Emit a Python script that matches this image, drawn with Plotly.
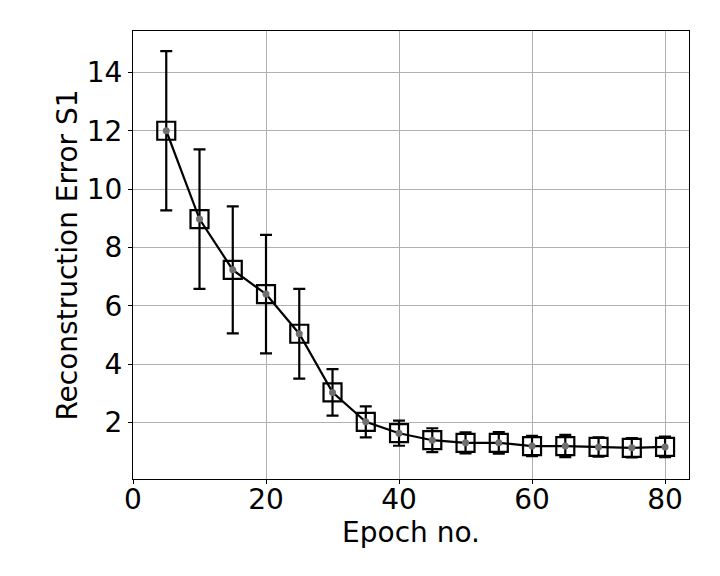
import plotly.graph_objects as go

epochs = [5, 10, 15, 20, 25, 30, 35, 40, 45, 50, 55, 60, 65, 70, 75, 80]
recon_error = [12.0, 8.97, 7.23, 6.4, 5.04, 3.03, 2.02, 1.63, 1.39, 1.3, 1.3,
               1.19, 1.19, 1.16, 1.13, 1.16]
recon_std = [2.73, 2.39, 2.18, 2.03, 1.54, 0.8, 0.53, 0.43, 0.41, 0.36, 0.37,
             0.35, 0.38, 0.33, 0.33, 0.35]

font_family = "DejaVu Sans"

fig = go.Figure()

fig.add_trace(go.Scatter(
    x = epochs,
    y = recon_error,
    mode = "lines+markers",
    line = dict(color = "black", width = 2.2),
    marker = dict(symbol = "square-open", size = 18, color = "black",
                  line = dict(width = 2.2, color = "black")),
    error_y = dict(type = "data", array = recon_std, visible = True,
                   color = "black", thickness = 2.2, width = 6),
    showlegend = False))

fig.add_trace(go.Scatter(
    x = epochs,
    y = recon_error,
    mode = "markers",
    marker = dict(symbol = "circle", size = 7, color = "#707070"),
    showlegend = False))

axis_style = dict(showgrid = True,
                  gridcolor = "#b0b0b0",
                  gridwidth = 1,
                  showline = True,
                  linecolor = "black",
                  linewidth = 1,
                  mirror = True,
                  ticks = "outside",
                  ticklen = 4,
                  tickwidth = 1,
                  tickcolor = "black",
                  zeroline = False,
                  automargin = False,
                  tickfont = dict(family = font_family, size = 28, color = "black"))

fig.update_xaxes(axis_style,
                 range = [0, 83.6],
                 tickvals = [0, 20, 40, 60, 80],
                 ticklabelstandoff = -9,
                 title = dict(text = "Epoch no.", standoff = 0,
                              font = dict(family = font_family, size = 28, color = "black")))

fig.update_yaxes(axis_style,
                 range = [0.06, 15.42],
                 tickvals = [2, 4, 6, 8, 10, 12, 14],
                 title = dict(text = "Reconstruction Error S1", standoff = 0,
                              font = dict(family = font_family, size = 28, color = "black")))

# the page body adds an 8px offset, so the margins are shifted to compensate
fig.update_layout(width = 720,
                  height = 576,
                  margin = dict(l = 125, r = 39, t = 23, b = 105),
                  plot_bgcolor = "white",
                  paper_bgcolor = "white",
                  font = dict(family = font_family, color = "black"))

fig.write_html("out.html")
